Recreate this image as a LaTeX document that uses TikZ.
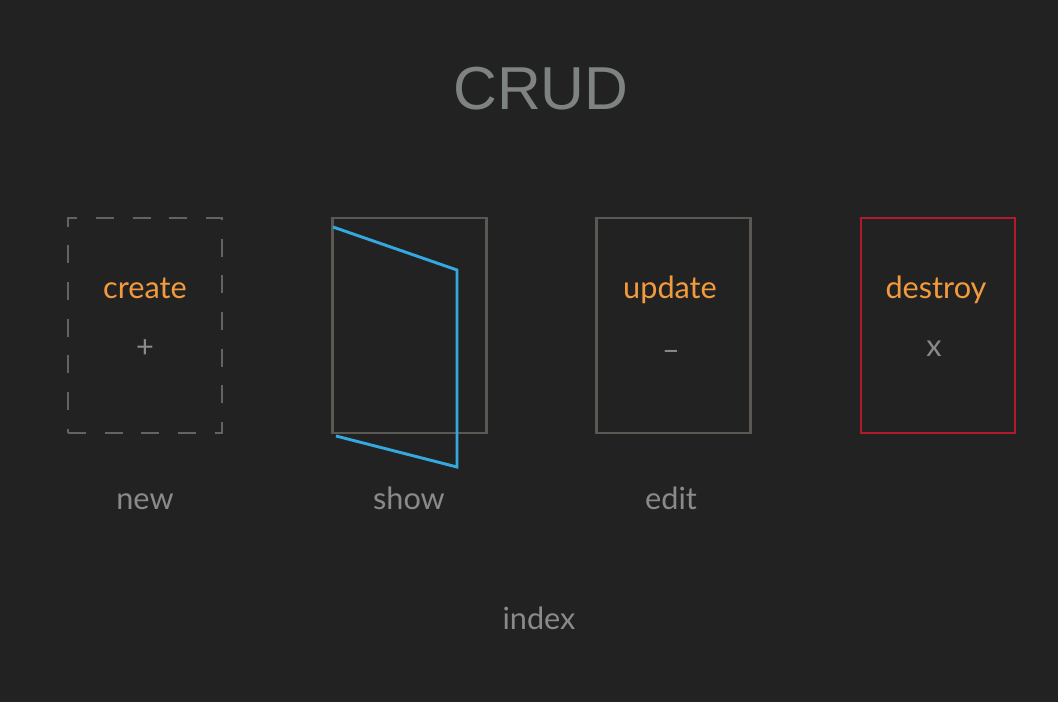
\documentclass[tikz,border=0pt]{standalone}
\usepackage{fontspec}
\setmainfont{Lato}
\newfontfamily\titlefont{Liberation Sans}
\usepackage{tikz}
\usetikzlibrary{positioning}

\definecolor{bgdark}{HTML}{222222}
\definecolor{boxgray}{HTML}{5B5853}
\definecolor{dashgray}{HTML}{636363}
\definecolor{showblue}{HTML}{35A8DF}
\definecolor{killred}{HTML}{B01A2A}
\definecolor{actorange}{HTML}{F29A3E}
\definecolor{txtgray}{HTML}{8A8A8A}
\definecolor{titlegray}{HTML}{7E8282}

\begin{document}
\begin{tikzpicture}[x=0.75pt, y=-0.75pt,
  page/.style    = {draw=boxgray, line width=1.8pt, minimum width=115.5pt, minimum height=161pt, inner sep=0pt},
  action/.style  = {anchor=base, text=actorange, font=\fontsize{23}{23}\selectfont},
  symbol/.style  = {anchor=base, text=txtgray, font=\fontsize{23}{23}\selectfont},
  route/.style   = {anchor=base, text=txtgray, font=\fontsize{23}{23}\selectfont}]

\fill [bgdark] (0,0) rectangle (1058,702);
\useasboundingbox (0,0) rectangle (1058,702);

\node [anchor=base, text=titlegray, font=\titlefont\fontsize{45.5}{45.5}\selectfont] (crud) at (541,110) {CRUD};

\node [page, draw=dashgray, dash pattern=on 13.5pt off 14pt] (newbox)     at (145,325.5) {};
\node [page                                               ] (showbox)    at (409.5,325.5) {};
\node [page                                               ] (editbox)    at (673.5,325.5) {};
\node [page, draw=killred                                 ] (destroybox) at (938,325.5) {};

\node [action] (create)  at (145,299) {create};
\node [action] (update)  at (670,299) {update};
\node [action] (destroy) at (936,299) {destroy};

\node [symbol] (plus)  at (145,358) {+};
\node [symbol] (minus) at (671,361) {--};
\node [symbol] (cross) at (934,357) {x};

\node [route] (new)   at (145,509) {new};
\node [route] (show)  at (409,509) {show};
\node [route] (edit)  at (671,509) {edit};
\node [route] (index) at (539,629) {index};

\draw [showblue, line width=2.2pt] (333,227) -- (457,270) -- (457,467) -- (336,436);

\end{tikzpicture}
\end{document}
